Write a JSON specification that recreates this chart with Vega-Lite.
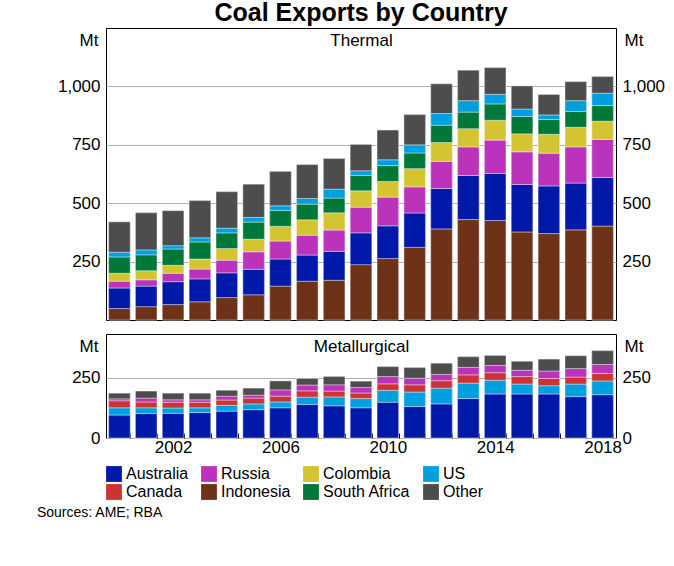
{
  "$schema": "https://vega.github.io/schema/vega-lite/v6.json",
  "padding": {"left": 36, "top": 0, "right": 10, "bottom": 2},
  "datasets": {
    "thermal": [
      {"year": 2000, "Indonesia": 49, "Australia": 88, "Russia": 29, "Colombia": 34, "South Africa": 70, "US": 20, "Other": 130},
      {"year": 2001, "Indonesia": 57, "Australia": 88, "Russia": 27, "Colombia": 39, "South Africa": 68, "US": 21, "Other": 159},
      {"year": 2002, "Indonesia": 66, "Australia": 98, "Russia": 36, "Colombia": 34, "South Africa": 70, "US": 14, "Other": 150},
      {"year": 2003, "Indonesia": 78, "Australia": 98, "Russia": 42, "Colombia": 43, "South Africa": 73, "US": 18, "Other": 159},
      {"year": 2004, "Indonesia": 96, "Australia": 106, "Russia": 54, "Colombia": 50, "South Africa": 67, "US": 20, "Other": 156},
      {"year": 2005, "Indonesia": 108, "Australia": 109, "Russia": 75, "Colombia": 54, "South Africa": 73, "US": 20, "Other": 142},
      {"year": 2006, "Indonesia": 145, "Australia": 116, "Russia": 77, "Colombia": 63, "South Africa": 68, "US": 20, "Other": 147},
      {"year": 2007, "Indonesia": 166, "Australia": 112, "Russia": 85, "Colombia": 66, "South Africa": 67, "US": 24, "Other": 145},
      {"year": 2008, "Indonesia": 170, "Australia": 124, "Russia": 91, "Colombia": 74, "South Africa": 63, "US": 38, "Other": 131},
      {"year": 2009, "Indonesia": 237, "Australia": 136, "Russia": 110, "Colombia": 70, "South Africa": 66, "US": 20, "Other": 112},
      {"year": 2010, "Indonesia": 263, "Australia": 140, "Russia": 123, "Colombia": 67, "South Africa": 68, "US": 25, "Other": 127},
      {"year": 2011, "Indonesia": 311, "Australia": 147, "Russia": 112, "Colombia": 78, "South Africa": 67, "US": 35, "Other": 129},
      {"year": 2012, "Indonesia": 390, "Australia": 173, "Russia": 116, "Colombia": 81, "South Africa": 74, "US": 50, "Other": 127},
      {"year": 2013, "Indonesia": 430, "Australia": 189, "Russia": 122, "Colombia": 78, "South Africa": 71, "US": 49, "Other": 130},
      {"year": 2014, "Indonesia": 426, "Australia": 201, "Russia": 143, "Colombia": 85, "South Africa": 70, "US": 41, "Other": 114},
      {"year": 2015, "Indonesia": 377, "Australia": 203, "Russia": 140, "Colombia": 77, "South Africa": 74, "US": 32, "Other": 99},
      {"year": 2016, "Indonesia": 370, "Australia": 204, "Russia": 140, "Colombia": 81, "South Africa": 63, "US": 20, "Other": 87},
      {"year": 2017, "Indonesia": 386, "Australia": 200, "Russia": 155, "Colombia": 84, "South Africa": 68, "US": 46, "Other": 81},
      {"year": 2018, "Indonesia": 402, "Australia": 208, "Russia": 163, "Colombia": 78, "South Africa": 67, "US": 53, "Other": 71}
    ],
    "met": [
      {"year": 2000, "Australia": 95, "US": 30, "Canada": 29, "Russia": 8, "Other": 23},
      {"year": 2001, "Australia": 101, "US": 24, "Canada": 24, "Russia": 16, "Other": 29},
      {"year": 2002, "Australia": 102, "US": 22, "Canada": 24, "Russia": 10, "Other": 27},
      {"year": 2003, "Australia": 105, "US": 20, "Canada": 23, "Russia": 10, "Other": 27},
      {"year": 2004, "Australia": 111, "US": 24, "Canada": 22, "Russia": 16, "Other": 24},
      {"year": 2005, "Australia": 117, "US": 24, "Canada": 24, "Russia": 12, "Other": 29},
      {"year": 2006, "Australia": 125, "US": 24, "Canada": 24, "Russia": 26, "Other": 37},
      {"year": 2007, "Australia": 139, "US": 30, "Canada": 26, "Russia": 24, "Other": 27},
      {"year": 2008, "Australia": 133, "US": 37, "Canada": 24, "Russia": 26, "Other": 34},
      {"year": 2009, "Australia": 125, "US": 38, "Canada": 23, "Russia": 23, "Other": 26},
      {"year": 2010, "Australia": 148, "US": 49, "Canada": 27, "Russia": 30, "Other": 41},
      {"year": 2011, "Australia": 130, "US": 60, "Canada": 30, "Russia": 27, "Other": 44},
      {"year": 2012, "Australia": 141, "US": 65, "Canada": 31, "Russia": 26, "Other": 46},
      {"year": 2013, "Australia": 163, "US": 64, "Canada": 34, "Russia": 31, "Other": 44},
      {"year": 2014, "Australia": 182, "US": 57, "Canada": 31, "Russia": 30, "Other": 41},
      {"year": 2015, "Australia": 182, "US": 41, "Canada": 31, "Russia": 26, "Other": 37},
      {"year": 2016, "Australia": 182, "US": 34, "Canada": 30, "Russia": 31, "Other": 49},
      {"year": 2017, "Australia": 171, "US": 52, "Canada": 29, "Russia": 35, "Other": 53},
      {"year": 2018, "Australia": 179, "US": 57, "Canada": 31, "Russia": 37, "Other": 57}
    ]
  },
  "title": {
    "text": "Sources: AME; RBA",
    "orient": "bottom",
    "anchor": "start",
    "fontSize": 14,
    "fontWeight": "normal",
    "offset": 6,
    "dx": -20
  },
  "spacing": 12,
  "vconcat": [
    {
      "title": {"text": "Coal Exports by Country", "fontSize": 25, "fontWeight": "bold", "offset": 2},
      "width": 510,
      "height": 292,
      "data": {"name": "thermal"},
      "transform": [
        {"fold": ["Indonesia", "Australia", "Russia", "Colombia", "South Africa", "US", "Other"], "as": ["country", "value"]},
        {"calculate": "indexof(['Indonesia','Australia','Russia','Colombia','South Africa','US','Other'], datum.country)", "as": "ord"}
      ],
      "encoding": {
        "color": {"field": "country", "type": "nominal", "scale": {"domain": ["Australia", "Russia", "Colombia", "US", "Canada", "Indonesia", "South Africa", "Other"], "range": ["#0019a8", "#bb33bb", "#d4c431", "#00a0e0", "#cc3333", "#6e3219", "#00783a", "#4d4d4d"]}},
        "order": {"field": "ord", "type": "quantitative"}
      },
      "layer": [
        {
          "mark": {"type": "bar", "stroke": "white", "strokeWidth": 0.4},
          "encoding": {
            "x": {"field": "year", "type": "ordinal", "axis": {"orient": "top", "labels": false, "ticks": false, "domain": false, "title": "Thermal", "titleY": 4, "titleBaseline": "top", "titleFontSize": 17, "titleFontWeight": "normal"}},
            "y": {"field": "value", "type": "quantitative", "aggregate": "sum", "scale": {"domain": [0, 1250], "nice": false},
              "axis": {"values": [250, 500, 750, 1000], "grid": true, "title": "Mt", "titleAngle": 0, "titleAlign": "right", "titleX": -8, "titleY": 12, "titleBaseline": "middle"}}
          }
        },
        {
          "mark": {"type": "bar", "stroke": "white", "strokeWidth": 0.4},
          "encoding": {
            "x": {"field": "year", "type": "ordinal", "axis": null},
            "y": {"field": "value", "type": "quantitative", "aggregate": "sum", "scale": {"domain": [0, 1250], "nice": false},
              "axis": {"orient": "right", "values": [250, 500, 750, 1000], "grid": false, "title": "Mt", "titleAngle": 0, "titleAlign": "left", "titleX": 8, "titleY": 12, "titleBaseline": "middle"}}
          }
        }
      ],
      "resolve": {"scale": {"y": "independent"}, "axis": {"x": "independent"}}
    },
    {
      "width": 510,
      "height": 104,
      "data": {"name": "met"},
      "transform": [
        {"fold": ["Australia", "US", "Canada", "Russia", "Other"], "as": ["country", "value"]},
        {"calculate": "indexof(['Australia','US','Canada','Russia','Other'], datum.country)", "as": "ord"}
      ],
      "encoding": {
        "color": {"field": "country", "type": "nominal", "scale": {"domain": ["Australia", "Russia", "Colombia", "US", "Canada", "Indonesia", "South Africa", "Other"], "range": ["#0019a8", "#bb33bb", "#d4c431", "#00a0e0", "#cc3333", "#6e3219", "#00783a", "#4d4d4d"]}},
        "order": {"field": "ord", "type": "quantitative"}
      },
      "layer": [
        {
          "mark": {"type": "bar", "stroke": "white", "strokeWidth": 0.4},
          "encoding": {
            "x": {"field": "year", "type": "ordinal", "axis": {"title": null, "labelAngle": 0, "labelExpr": "(datum.value - 2002) % 4 == 0 ? datum.value : ''", "ticks": true, "tickColor": "black", "tickBand": "extent", "tickSize": -5, "labelPadding": 6}},
            "y": {"field": "value", "type": "quantitative", "aggregate": "sum", "scale": {"domain": [0, 430], "nice": false},
              "axis": {"values": [0, 250], "grid": true, "title": "Mt", "titleAngle": 0, "titleAlign": "right", "titleX": -8, "titleY": 12, "titleBaseline": "middle"}}
          }
        },
        {
          "mark": {"type": "bar", "stroke": "white", "strokeWidth": 0.4},
          "encoding": {
            "x": {"field": "year", "type": "ordinal", "axis": {"orient": "top", "labels": false, "ticks": false, "domain": false, "title": "Metallurgical", "titleY": 4, "titleBaseline": "top", "titleFontSize": 17, "titleFontWeight": "normal"}},
            "y": {"field": "value", "type": "quantitative", "aggregate": "sum", "scale": {"domain": [0, 430], "nice": false},
              "axis": {"orient": "right", "values": [0, 250], "grid": false, "title": "Mt", "titleAngle": 0, "titleAlign": "left", "titleX": 8, "titleY": 12, "titleBaseline": "middle"}}
          }
        }
      ],
      "resolve": {"scale": {"y": "independent"}, "axis": {"x": "independent"}}
    }
  ],
  "resolve": {"scale": {"color": "shared"}},
  "config": {
    "font": "Liberation Sans",
    "view": {"stroke": "black", "strokeWidth": 1},
    "scale": {"bandPaddingInner": 0.2, "bandPaddingOuter": 0.1},
    "axis": {"labelFontSize": 17, "titleFontSize": 17, "titleFontWeight": "normal", "labelColor": "black", "titleColor": "black", "domain": false, "ticks": false, "gridColor": "#b0b0b0", "labelPadding": 6},
    "legend": {"orient": "bottom", "direction": "horizontal", "columns": 4, "title": null, "labelFontSize": 16, "symbolType": "square", "symbolSize": 250, "symbolStrokeWidth": 0, "columnPadding": 12, "rowPadding": 2, "labelColor": "black", "offset": 10},
    "title": {"color": "black"}
  }
}
